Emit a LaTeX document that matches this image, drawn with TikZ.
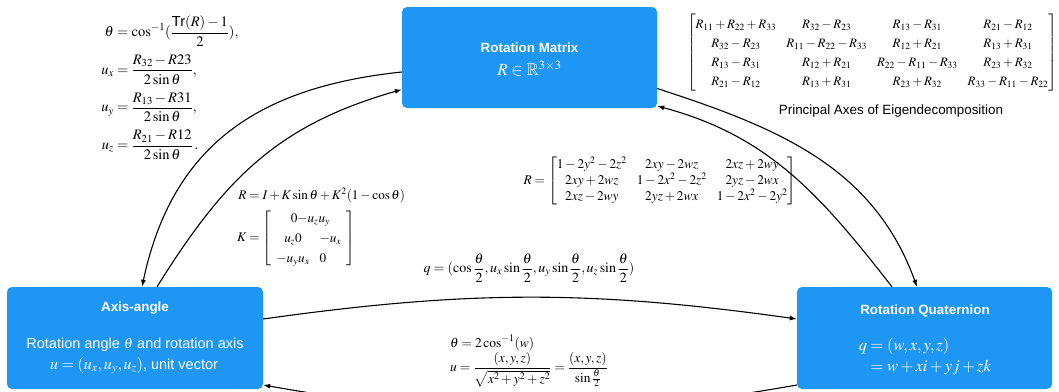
\documentclass[tikz,border=0pt]{standalone}
\usepackage{amsmath,amssymb}
\usepackage{mathptmx}
\usepackage[no-math]{fontspec}
\setmainfont{Liberation Sans}
\usetikzlibrary{arrows.meta,calc}
\definecolor{boxblue}{RGB}{30,150,243}
\begin{document}
\begin{tikzpicture}[x=1pt,y=1pt,
  box/.style={fill=boxblue, rounded corners=5pt, inner sep=0pt, minimum width=255pt, minimum height=101pt},
  intext/.style={text=white, inner sep=0pt, font=\fontsize{14.5}{17}\selectfont},
  ttl/.style={text=white, inner sep=0pt, font=\fontsize{13.4}{16}\selectfont\bfseries},
  formula/.style={inner sep=0pt, font=\fontsize{14}{17}\selectfont},
  conn/.style={line width=1.1pt, -{Latex[length=7pt,width=5pt]}}]
\useasboundingbox (0,0) rectangle (1059,-391);
\clip (0,0) rectangle (1059,-391);

% boxes
\node[box] (rm) at (529.5,-57.5) {};
\node[box, minimum width=256pt, minimum height=102pt] (aa) at (135,-338) {};
\node[box, minimum height=102pt] (q) at (924.5,-338) {};

% box texts
\node[ttl] (rmt) at (529.5,-48) {Rotation Matrix};
\node[intext, font=\fontsize{17}{20}\selectfont] (rmm) at (529.5,-69) {$R\in\mathbb{R}^{3\times3}$};
\node[ttl] (aat) at (135,-308) {Axis-angle};
\node[intext] (aa1) at (135,-345) {Rotation angle $\theta$ and rotation axis};
\node[intext] (aa2) at (134,-366) {{\fontsize{16}{18}\selectfont$u=(u_x,u_y,u_z)$}, unit vector};
\node[ttl] (qt) at (925,-311) {Rotation Quaternion};
\node[intext, font=\fontsize{16.5}{19}\selectfont] (qm) at (925,-357) {$\begin{aligned} q &= (w,x,y,z)\\[-1pt] &= w+xi+yj+zk\end{aligned}$};

% formulas
\node[formula, font=\fontsize{14.5}{17}\selectfont] (f1) at (170,-88) {$\begin{aligned}
\theta &= \cos^{-1}(\frac{\text{Tr}(R)-1}{2}),\\[4pt]
u_x &= \frac{R_{32}-R23}{2\sin\theta},\\[4pt]
u_y &= \frac{R_{13}-R31}{2\sin\theta},\\[4pt]
u_z &= \frac{R_{21}-R12}{2\sin\theta}\,.
\end{aligned}$};

\node[formula, font=\fontsize{13.2}{16}\selectfont] (f2) at (321,-228) {$\begin{aligned}
R &= I + K\sin\theta + K^2(1-\cos\theta)\\
K &= {\renewcommand{\arraystretch}{1.25}\left[\begin{array}{cl}
\multicolumn{2}{c}{\;0{-}u_zu_y} \\
u_z0 & -u_x\\
-u_yu_x & 0
\end{array}\right]}
\end{aligned}$};

\node[formula, font=\fontsize{13.3}{15.2}\selectfont] (f3) at (660,-181) {$R={\renewcommand{\arraystretch}{1.05}\begin{bmatrix}
1-2y^2-2z^2 & 2xy-2wz & 2xz+2wy\\
2xy+2wz & 1-2x^2-2z^2 & 2yz-2wx\\
2xz-2wy & 2yz+2wx & 1-2x^2-2y^2
\end{bmatrix}}$};

\node[formula, font=\fontsize{12.85}{15.4}\selectfont] (f4) at (872,-53) {${\renewcommand{\arraystretch}{1.23}\begin{bmatrix}
R_{11}+R_{22}+R_{33} & R_{32}-R_{23} & R_{13}-R_{31} & R_{21}-R_{12}\\
R_{32}-R_{23} & R_{11}-R_{22}-R_{33} & R_{12}+R_{21} & R_{13}+R_{31}\\
R_{13}-R_{31} & R_{12}+R_{21} & R_{22}-R_{11}-R_{33} & R_{23}+R_{32}\\
R_{21}-R_{12} & R_{13}+R_{31} & R_{23}+R_{32} & R_{33}-R_{11}-R_{22}
\end{bmatrix}}$};
\node[inner sep=0pt, font=\fontsize{13.4}{16}\selectfont] (f4c) at (891,-111) {Principal Axes of Eigendecomposition};

\node[formula] (f5) at (529,-268) {$\displaystyle q=(\cos\frac{\theta}{2},u_x\sin\frac{\theta}{2},u_y\sin\frac{\theta}{2},u_z\sin\frac{\theta}{2})$};

\node[formula, font=\fontsize{13.5}{16}\selectfont] (f6) at (529,-361) {$\begin{aligned}
&\theta = 2\cos^{-1}(w)\\[-4pt]
&u = \frac{(x,y,z)}{\sqrt{x^2+y^2+z^2}} = \frac{(x,y,z)}{\sin\frac{\theta}{2}}
\end{aligned}$};

% connectors
\draw[conn] ([yshift=-14.5pt]rm.west) to[out=186,in=78,looseness=1.1] ([xshift=7pt]aa.north);
\draw[conn] ([xshift=22pt]aa.north) to[out=58,in=196,looseness=1.05] ([yshift=-32pt]rm.west);
\draw[conn] ([yshift=-31pt]rm.east) to[out=-18,in=110] ([xshift=-7.5pt]q.north);
\draw[conn] ([xshift=-32.5pt]q.north) to[out=128,in=-15] ([yshift=-48.5pt]rm.east);
\draw[conn] (aa.east |- 0,-319) to[bend left=8] (q.west |- 0,-319);
\draw[conn] (q.west |- 0,-385) to[bend left=10] (aa.east |- 0,-385);
\end{tikzpicture}
\end{document}
